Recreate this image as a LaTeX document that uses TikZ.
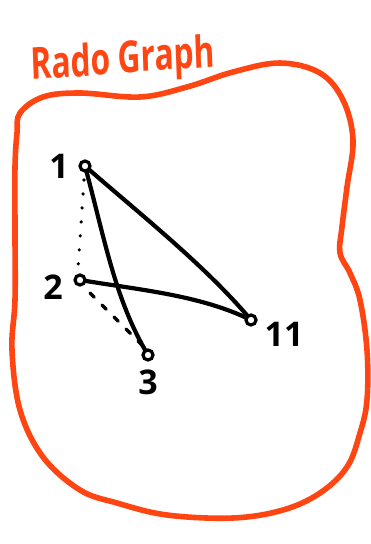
\documentclass[tikz,border=0pt]{standalone}
\usepackage{fontspec}
\setmainfont{Open Sans}
\begin{document}
\begin{tikzpicture}[x=1pt,y=-1pt,
  vtx/.style={circle,draw=black,line width=3.2pt,fill=white,inner sep=0pt,minimum size=10pt},
  lbl/.style={font=\fontsize{34}{34}\selectfont\bfseries,text=black},
  edge/.style={draw=black,line width=4.2pt,line cap=round,line join=round},
  blob/.style={draw=rorange,line width=5.6pt,line join=round}]
\definecolor{rorange}{HTML}{FF4511}
\useasboundingbox (0,0) rectangle (370,544);
\fill[white] (0,0) rectangle (370,544);
% title
\node[text=rorange,font=\fontsize{44}{44}\selectfont\bfseries,anchor=base west,xscale=0.72,rotate=3,inner sep=0pt] (title) at (31,80) {Rado Graph};
% blob
\draw[blob] plot[smooth cycle,tension=0.6] coordinates {
 (20,113) (43,97) (80,93) (140,97) (187,87) (233,72) (280,63) (320,73) (343,100)
 (353,140) (347,187) (342,227) (340,253) (350,273) (360,300) (367,350) (367,400)
 (360,433) (347,467) (320,493) (283,510) (233,518) (167,515) (117,503) (80,490)
 (43,457) (20,410) (12,350) (15,300) (15,233) (15,167) (17,133)};
% edges
\coordinate (p1) at (85,166);
\coordinate (p2) at (80,280);
\coordinate (p3) at (148,355);
\coordinate (p11) at (251,320);
\draw[edge] (p1) .. controls (135,210) and (205,265) .. (p11);
\draw[edge] (p1) .. controls (105,240) and (115,300) .. (p3);
\draw[edge] (p2) .. controls (140,290) and (200,295) .. (p11);
\draw[black,line width=3.6pt,line cap=round,dash pattern=on 0pt off 14pt] (84,180) -- (78,268);
\draw[black,line width=3.4pt,line cap=round,dash pattern=on 6pt off 11pt] (90,293) -- (142,345);
% vertices
\node[vtx] (v1) at (p1) {};
\node[vtx] (v2) at (p2) {};
\node[vtx] (v3) at (p3) {};
\node[vtx] (v11) at (p11) {};
% labels
\node[lbl] (l1) at (59,166) {1};
\node[lbl] (l2) at (53,287) {2};
\node[lbl] (l3) at (148,382) {3};
\node[lbl] (l11) at (284,334) {11};
\end{tikzpicture}
\end{document}
